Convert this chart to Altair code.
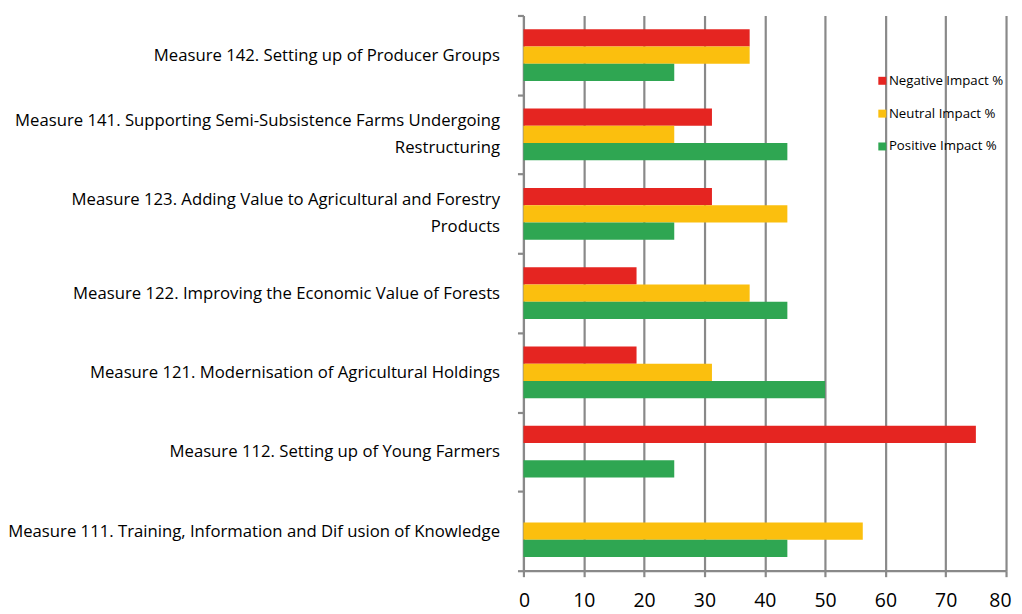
import altair as alt
import pandas as pd

categories = [
    "Measure 142. Setting up of Producer Groups",
    "Measure 141. Supporting Semi-Subsistence Farms Undergoing\nRestructuring",
    "Measure 123. Adding Value to Agricultural and Forestry\nProducts",
    "Measure 122. Improving the Economic Value of Forests",
    "Measure 121. Modernisation of Agricultural Holdings",
    "Measure 112. Setting up of Young Farmers",
    "Measure 111. Training, Information and Dif usion of Knowledge",
]
series = ["Negative Impact %", "Neutral Impact %", "Positive Impact %"]
negative = [37.5, 31.25, 31.25, 18.75, 18.75, 75.0, 0.0]
neutral = [37.5, 25.0, 43.75, 37.5, 31.25, 0.0, 56.25]
positive = [25.0, 43.75, 25.0, 43.75, 50.0, 25.0, 43.75]
x_ticks = [0, 10, 20, 30, 40, 50, 60, 70, 80]
colors = ["#E52521", "#FBBF0E", "#2FA652"]

rows = []
for i, c in enumerate(categories):
    for s, vals in zip(series, [negative, neutral, positive]):
        rows.append({"measure": c, "series": s, "value": vals[i]})
df = pd.DataFrame(rows)

FONT = "Open Sans"
GRID = "#898989"
MULTI = "isString(datum.value) && indexof(datum.value, '\\n') >= 0"

chart = alt.Chart(df).mark_bar().encode(
    y=alt.Y("measure:N", sort=categories, title=None,
            scale=alt.Scale(paddingInner=0, paddingOuter=0),
            axis=alt.Axis(tickBand="extent", grid=False, domainColor=GRID, domainWidth=2.2,
                          tickColor=GRID, tickWidth=2.2, tickSize=6, labelPadding=18,
                          labelFont=FONT, labelFontSize=16.8, labelColor="#000000",
                          labelLineHeight=27, labelLimit=0,
                          labelOffset={"condition": {"test": MULTI, "value": -14}, "value": 0},
                          labelExpr="isString(datum.value) ? split(datum.value, '\\n') : ''")),
    yOffset=alt.YOffset("series:N", sort=series,
                        scale=alt.Scale(paddingInner=0, paddingOuter=0.8)),
    x=alt.X("value:Q", title=None,
            scale=alt.Scale(domain=[0, 80], nice=False),
            axis=alt.Axis(values=x_ticks, grid=True, labelFlush=True, labelFlushOffset=5,
                          gridColor=GRID, gridWidth=2.2, domainColor=GRID, domainWidth=2.2,
                          tickColor=GRID, tickWidth=2.2, tickSize=6, labelPadding=15,
                          labelFont=FONT, labelFontSize=19.5, labelColor="#000000")),
    color=alt.Color("series:N", sort=series,
                    scale=alt.Scale(domain=series, range=colors),
                    legend=alt.Legend(title=None, orient="none", legendX=354, legendY=59,
                                      symbolType="square", symbolSize=64, symbolStrokeWidth=0,
                                      labelFont=FONT, labelFontSize=13.3, labelColor="#000000",
                                      rowPadding=19, padding=0, labelOffset=0)),
).properties(
    width=485,
    height=558,
    padding={"left": 518, "top": 6, "right": 8, "bottom": 42},
    autosize=alt.AutoSizeParams(type="none"),
).configure_view(stroke=None)

chart.save("out.html", embed_options={"renderer": "svg", "actions": False})
